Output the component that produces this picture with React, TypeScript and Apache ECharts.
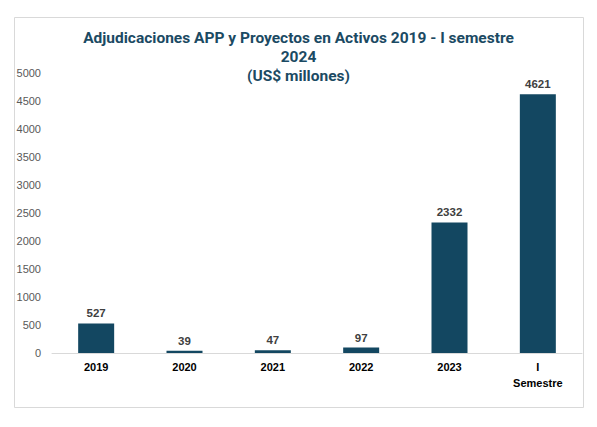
import { useEffect, useRef } from 'react';
import * as echarts from 'echarts';

const categories = ['2019', '2020', '2021', '2022', '2023', 'I\nSemestre'];
const values = [527, 39, 47, 97, 2332, 4621];
const titleLines = ['Adjudicaciones APP y Proyectos en Activos 2019 - I semestre', '2024', '(US$ millones)'];

export default function App() {
    const chartRef = useRef<HTMLDivElement>(null);

    useEffect(() => {
        if (!chartRef.current) return;
        const chart = echarts.init(chartRef.current, undefined, { renderer: 'svg' });

        chart.setOption({
            animation: false,
            title: {
                text: titleLines.join('\n'),
                left: 'center',
                top: 23,
                textStyle: {
                    fontFamily: 'Roboto',
                    fontSize: 15.5,
                    fontWeight: 'bold',
                    color: '#1B4A63',
                    lineHeight: 19,
                },
            },
            graphic: [
                {
                    type: 'rect',
                    shape: { x: 14.5, y: 17.5, width: 569, height: 390 },
                    style: { fill: 'none', stroke: '#D9D9D9', lineWidth: 1 },
                    silent: true,
                },
            ],
            grid: { left: 52, right: 15, top: 73, bottom: 74 },
            xAxis: {
                type: 'category',
                data: categories,
                axisLine: { lineStyle: { color: '#D9D9D9' } },
                axisTick: { show: false },
                axisLabel: {
                    color: '#000000',
                    fontFamily: 'Liberation Sans',
                    fontWeight: 'bold',
                    fontSize: 11,
                    lineHeight: 16,
                    margin: 6,
                },
            },
            yAxis: {
                type: 'value',
                min: 0,
                max: 5000,
                interval: 500,
                splitLine: { show: false },
                axisLine: { show: false },
                axisTick: { show: false },
                axisLabel: {
                    color: '#595959',
                    fontFamily: 'Liberation Sans',
                    fontSize: 11,
                    margin: 11,
                    formatter: (v: number) => String(v),
                },
            },
            series: [
                {
                    type: 'bar',
                    data: values,
                    barWidth: 36,
                    itemStyle: { color: '#134761' },
                    label: {
                        show: true,
                        position: 'top',
                        distance: 4,
                        color: '#404040',
                        fontFamily: 'Liberation Sans',
                        fontWeight: 'bold',
                        fontSize: 11.5,
                    },
                },
            ],
        });

        return () => {
            chart.dispose();
        };
    }, []);

    return (
        <div style={{ position: 'absolute', left: 0, top: 0, width: 597, height: 427, background: '#fff' }}>
            <div ref={chartRef} style={{ width: 597, height: 427 }} />
        </div>
    );
}
